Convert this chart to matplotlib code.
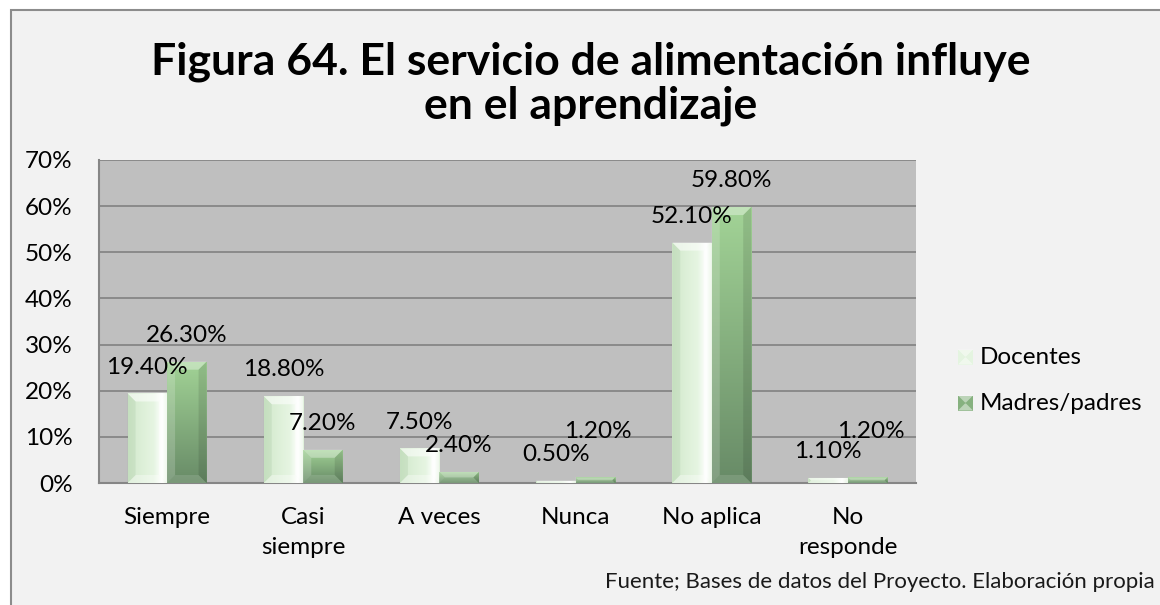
import numpy as np
import matplotlib
matplotlib.use("Agg")
import matplotlib.pyplot as plt
from matplotlib.patches import Rectangle, Polygon
from matplotlib.transforms import IdentityTransform
from matplotlib.colors import to_rgb

# ---- data ----
categories = ["Siempre", "Casi\nsiempre", "A veces", "Nunca", "No aplica", "No\nresponde"]
docentes = [19.4, 18.8, 7.5, 0.5, 52.1, 1.1]
madres = [26.3, 7.2, 2.4, 1.2, 59.8, 1.2]
series_names = ["Docentes", "Madres/padres"]
y_ticks = [0, 10, 20, 30, 40, 50, 60, 70]
y_tick_labels = [f"{t}%" for t in y_ticks]
title_lines = ["Figura 64. El servicio de alimentación influye", "en el aprendizaje"]
source_note = "Fuente; Bases de datos del Proyecto. Elaboración propia"

FONT = "Lato"
FS = 17.5
W, H = 1160, 605
DPI = 100

fig = plt.figure(figsize=(W / DPI, H / DPI), dpi=DPI, facecolor="white")

# chart frame (extends past the right and bottom edges)
fig.patches.append(Rectangle((10.5 / W, -0.05), 1.2, (H - 9.5) / H + 0.05,
                             transform=fig.transFigure, facecolor="#f2f2f2",
                             edgecolor="#8c8c8c", linewidth=1.5, zorder=-10))

ax = fig.add_axes([99 / W, (H - 483) / H, (916 - 99) / W, (483 - 160) / H], zorder=1)
ax.set_facecolor("#bfbfbf")
ax.set_xlim(-0.5, len(categories) - 0.5)
ax.set_ylim(0, 70)
ax.set_yticks(y_ticks)
ax.set_yticklabels(y_tick_labels, fontfamily=FONT, fontsize=FS)
ax.set_xticks(range(len(categories)))
ax.set_xticklabels(categories, fontfamily=FONT, fontsize=FS, linespacing=1.55)
ax.tick_params(axis="y", length=0, pad=19, colors="#000000")
ax.tick_params(axis="x", length=0, pad=17, colors="#000000")
ax.yaxis.grid(True, color="#868686", linewidth=1.3)
ax.set_axisbelow(True)
for s in ("top", "right"):
    ax.spines[s].set_visible(False)
for s in ("left", "bottom"):
    ax.spines[s].set_color("#868686")
    ax.spines[s].set_linewidth(1.5)

bw = 0.29
x = np.arange(len(categories))


def gradient_image(kind, n=64):
    t = np.linspace(0, 1, n)
    if kind == "doc":
        stops = [(0.0, "#d2e9cc"), (0.65, "#e6f5e2"), (0.86, "#ffffff"), (1.0, "#dcefd7")]
        img = np.zeros((1, n, 3))
        for k in range(n):
            for (p0, c0), (p1, c1) in zip(stops[:-1], stops[1:]):
                if p0 <= t[k] <= p1:
                    f = (t[k] - p0) / (p1 - p0)
                    img[0, k] = (1 - f) * np.array(to_rgb(c0)) + f * np.array(to_rgb(c1))
                    break
        return img
    top, bot = np.array(to_rgb("#a2d396")), np.array(to_rgb("#688b67"))
    img = np.zeros((n, 1, 3))
    for k in range(n):
        img[k, 0] = (1 - t[k]) * top + t[k] * bot
    return img


def bevel(target, x0, y0, x1, y1, b, shades, transform):
    """Four bevel facets around a rectangle given in pixel coordinates."""
    b = min(b, (x1 - x0) / 2, (y1 - y0) / 2)
    facets = {
        "top": [(x0, y1), (x1, y1), (x1 - b, y1 - b), (x0 + b, y1 - b)],
        "bottom": [(x0, y0), (x1, y0), (x1 - b, y0 + b), (x0 + b, y0 + b)],
        "left": [(x0, y0), (x0, y1), (x0 + b, y1 - b), (x0 + b, y0 + b)],
        "right": [(x1, y0), (x1, y1), (x1 - b, y1 - b), (x1 - b, y0 + b)],
    }
    for side, pts in facets.items():
        color, alpha = shades[side]
        target.add_artist(Polygon(pts, closed=True, facecolor=color, alpha=alpha,
                                  edgecolor="none", transform=transform, zorder=4))


doc_shades = {"top": ("white", 0.55), "bottom": ("white", 0.35),
              "left": ("#6f9a68", 0.12), "right": ("white", 0.5)}
mad_shades = {"top": ("white", 0.35), "bottom": ("white", 0.12),
              "left": ("white", 0.18), "right": ("black", 0.10)}

series = [(docentes, -bw / 2, "doc", doc_shades), (madres, bw / 2, "mad", mad_shades)]
for si, (values, offset, kind, shades) in enumerate(series):
    bars = ax.bar(x + offset, values, width=bw, color="none", edgecolor="none", zorder=3)
    img = gradient_image(kind)
    for ci, (rect, v) in enumerate(zip(bars, values)):
        im = ax.imshow(img, extent=(rect.get_x(), rect.get_x() + rect.get_width(), 0, v),
                       aspect="auto", zorder=3, interpolation="bilinear")
        im.set_clip_path(rect)
        # lift the second label when both labels of a pair would sit on the same line
        lift = 0
        if si == 1 and abs(values[ci] - docentes[ci]) < 2:
            lift = 14
        ax.annotate(f"{v:.2f}%", (rect.get_x() + rect.get_width() / 2, v),
                    xytext=(2 if lift else 0, 19 + lift), textcoords="offset points",
                    ha="center", va="center",
                    fontfamily=FONT, fontsize=FS, color="#000000", zorder=5)

ax.set_xlim(-0.5, len(categories) - 0.5)
ax.set_ylim(0, 70)
fig.canvas.draw()

ident = IdentityTransform()
for values, offset, kind, shades in series:
    for xi, v in zip(x + offset, values):
        (px0, py0) = ax.transData.transform((xi - bw / 2, 0))
        (px1, py1) = ax.transData.transform((xi + bw / 2, v))
        bevel(ax, px0, py0, px1, py1, 8, shades, ident)

# legend
for i, (name, kind, shades) in enumerate([(series_names[0], "doc", doc_shades),
                                          (series_names[1], "mad", mad_shades)]):
    cy = H - (357 + 46 * i)
    x0, x1 = 958, 973
    y0, y1 = cy - 7.5, cy + 7.5
    base = "#e4f4e0" if kind == "doc" else "#86b17f"
    fig.patches.append(Rectangle((x0, y0), x1 - x0, y1 - y0, facecolor=base,
                                 edgecolor="none", transform=ident, zorder=3))
    b = 7
    pts_tb = [[(x0, y1), (x1, y1), (x1 - b, y1 - b), (x0 + b, y1 - b)],
              [(x0, y0), (x1, y0), (x1 - b, y0 + b), (x0 + b, y0 + b)]]
    for pts in pts_tb:
        fig.patches.append(Polygon(pts, facecolor="white", alpha=0.45,
                                   edgecolor="none", transform=ident, zorder=4))
    fig.text(980 / W, cy / H, name, fontfamily=FONT, fontsize=FS,
             ha="left", va="center", color="#000000")

# title
fig.text(591 / W, (H - 62) / H, title_lines[0], fontfamily=FONT, fontsize=32,
         fontweight="bold", ha="center", va="center", color="#000000")
fig.text(591 / W, (H - 106) / H, title_lines[1], fontfamily=FONT, fontsize=32,
         fontweight="bold", ha="center", va="center", color="#000000")

# source note
fig.text(1155 / W, (H - 582) / H, source_note, fontfamily=FONT, fontsize=16,
         ha="right", va="center", color="#1a1a1a")

fig.savefig("out.png", dpi=DPI, facecolor="white")
